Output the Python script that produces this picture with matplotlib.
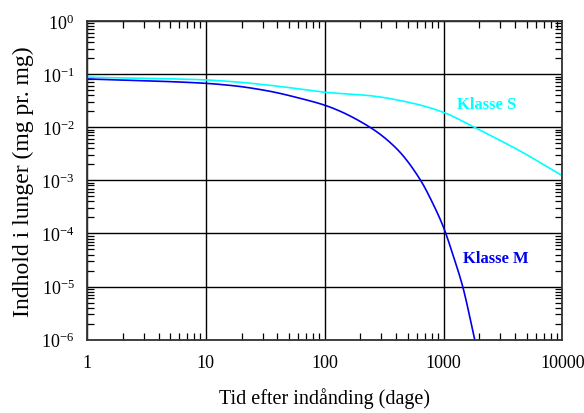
import numpy as np
import matplotlib
matplotlib.use('Agg')
import matplotlib.pyplot as plt
from matplotlib.ticker import LogLocator, FixedLocator, FixedFormatter, NullFormatter

plt.rcParams['font.family'] = ['Liberation Serif', 'DejaVu Serif']
plt.rcParams['mathtext.fontset'] = 'custom'
plt.rcParams['mathtext.rm'] = 'Liberation Serif'
plt.rcParams['mathtext.it'] = 'Liberation Serif:italic'

# values
days_s = [1, 8.9, 16.9, 32.5, 62, 106, 240, 552, 1000, 1890, 4370, 10000]
klasse_s = [0.0871, 0.0785, 0.0719, 0.0624, 0.0524, 0.045, 0.0392, 0.0282, 0.019, 0.0095, 0.0036, 0.00122]

days_m = [1, 8.9, 16.9, 32.5, 62, 106, 240, 405, 631, 816, 1000, 1216, 1450, 1830]
klasse_m = [0.0809, 0.068, 0.0605, 0.0487, 0.035, 0.0248, 0.0100, 0.0039, 0.00106, 3.6e-4,
            1.30e-4, 3.6e-5, 1.0e-5, 1.0e-6]

x_ticks = [1, 10, 100, 1000, 10000]
x_labels = ['1', '10', '100', '1000', '10000']


def pchip(xs, ys, n=600):
    # monotone cubic (Fritsch-Carlson) through the read points, in log-log space
    x = np.log10(xs)
    y = np.log10(ys)
    h = np.diff(x)
    d = np.diff(y) / h
    m = np.zeros_like(y)
    m[0], m[-1] = d[0], d[-1]
    for k in range(1, len(x) - 1):
        if d[k - 1] * d[k] > 0:
            w1 = 2 * h[k] + h[k - 1]
            w2 = h[k] + 2 * h[k - 1]
            m[k] = (w1 + w2) / (w1 / d[k - 1] + w2 / d[k])
    xf = np.linspace(x[0], x[-1], n)
    idx = np.clip(np.searchsorted(x, xf) - 1, 0, len(x) - 2)
    t = (xf - x[idx]) / h[idx]
    h00 = 2 * t ** 3 - 3 * t ** 2 + 1
    h10 = t ** 3 - 2 * t ** 2 + t
    h01 = -2 * t ** 3 + 3 * t ** 2
    h11 = t ** 3 - t ** 2
    yf = h00 * y[idx] + h10 * h[idx] * m[idx] + h01 * y[idx + 1] + h11 * h[idx] * m[idx + 1]
    return 10 ** xf, 10 ** yf


fig = plt.figure(figsize=(5.84, 4.14), dpi=100)
ax = fig.add_axes([0.149, 0.177, 0.814, 0.770])

ax.plot(*pchip(days_s, klasse_s), color='#00ffff', lw=1.2)
ax.plot(*pchip(days_m, klasse_m), color='#0000ee', lw=1.2)

ax.set_xscale('log')
ax.set_yscale('log')
ax.set_xlim(1, 10000)
ax.set_ylim(1e-6, 1)

ax.xaxis.set_major_locator(FixedLocator(x_ticks))
ax.xaxis.set_major_formatter(FixedFormatter(x_labels))
ax.xaxis.set_minor_locator(LogLocator(base=10, subs=np.arange(2, 10)))
ax.xaxis.set_minor_formatter(NullFormatter())
ax.yaxis.set_major_locator(LogLocator(base=10, numticks=10))
ax.yaxis.set_minor_locator(LogLocator(base=10, subs=np.arange(2, 10), numticks=10))
ax.yaxis.set_minor_formatter(NullFormatter())

ax.grid(True, which='major', color='black', lw=1.0)
ax.tick_params(which='both', direction='in', top=True, right=True, labelsize=13, colors='black')
ax.tick_params(which='major', length=0)
ax.tick_params(axis='x', which='major', pad=10)
ax.tick_params(axis='y', which='major', pad=9)
ax.tick_params(which='minor', length=5, width=0.9)
for s in ax.spines.values():
    s.set_linewidth(1.3)
    s.set_color('#333333')

ax.text(1294, 0.0273, 'Klasse S', color='#00ffff', fontsize=12, fontweight='bold', ha='left', va='center')
ax.text(1453, 3.44e-5, 'Klasse M', color='#0000ee', fontsize=12, fontweight='bold', ha='left', va='center')

ax.set_xlabel('Tid efter indånding (dage)', fontsize=14.5, labelpad=12)
ax.set_ylabel('Indhold i lunger (mg pr. mg)', fontsize=17, labelpad=5)

fig.savefig('out.png', dpi=100)
